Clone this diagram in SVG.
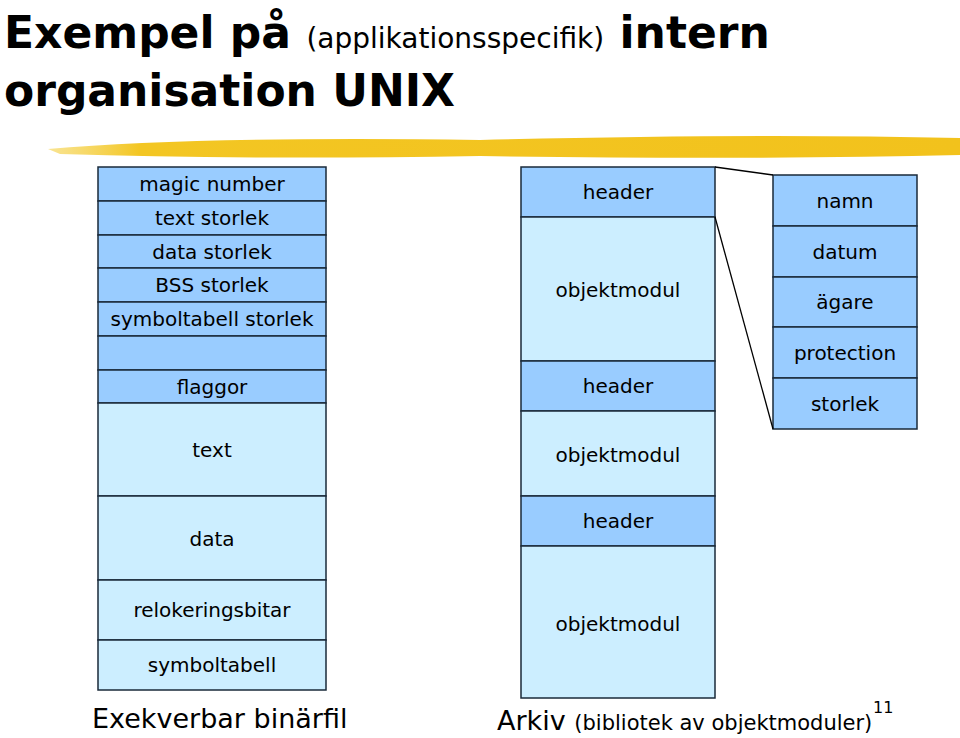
<svg xmlns="http://www.w3.org/2000/svg" width="960" height="738" viewBox="0 0 960 738">
<defs>
<linearGradient id="brush" x1="0" x2="1" y1="0" y2="0">
<stop offset="0" stop-color="#f5d24a" stop-opacity="0.6"/>
<stop offset="0.1" stop-color="#f3c623"/>
<stop offset="1" stop-color="#f2c21c"/>
</linearGradient>
</defs>
<style>
.d{fill:#99ccff;stroke:#1a2a3a;stroke-width:1.5}
.l{fill:#cceeff;stroke:#1a2a3a;stroke-width:1.5}
.t{font-family:"Comic Sans MS","DejaVu Sans",sans-serif;font-size:20px;fill:#000;text-anchor:middle}
.h{font-family:"DejaVu Sans",sans-serif;fill:#000}
.c{font-family:"Comic Sans MS","DejaVu Sans",sans-serif;fill:#000}
</style>
<rect width="960" height="738" fill="#fff"/>
<text class="h" x="4" y="48" style="font-size:44px;font-weight:bold">Exempel på <tspan style="font-size:28px;font-weight:normal">(applikationsspecifik)</tspan> intern</text>
<text class="h" x="4" y="106" style="font-size:44px;font-weight:bold" textLength="451">organisation UNIX</text>
<path d="M48,149 Q200,136 480,140 Q750,133 960,138 L960,155 Q750,160 480,156 Q250,160 60,154 Z" fill="url(#brush)"/>
<g id="exe">
<rect class="d" x="98" y="167" width="228" height="34"/><text class="t" x="212" y="191">magic number</text>
<rect class="d" x="98" y="201" width="228" height="34"/><text class="t" x="212" y="225">text storlek</text>
<rect class="d" x="98" y="235" width="228" height="33"/><text class="t" x="212" y="259">data storlek</text>
<rect class="d" x="98" y="268" width="228" height="34"/><text class="t" x="212" y="292">BSS storlek</text>
<rect class="d" x="98" y="302" width="228" height="34"/><text class="t" x="212" y="326">symboltabell storlek</text>
<rect class="d" x="98" y="336" width="228" height="34"/>
<rect class="d" x="98" y="370" width="228" height="33"/><text class="t" x="212" y="394">flaggor</text>
<rect class="l" x="98" y="403" width="228" height="93"/><text class="t" x="212" y="457">text</text>
<rect class="l" x="98" y="496" width="228" height="84"/><text class="t" x="212" y="546">data</text>
<rect class="l" x="98" y="580" width="228" height="60"/><text class="t" x="212" y="617">relokeringsbitar</text>
<rect class="l" x="98" y="640" width="228" height="50"/><text class="t" x="212" y="672">symboltabell</text>
</g>
<g id="arkiv">
<rect class="d" x="521" y="167" width="194" height="50"/><text class="t" x="618" y="199">header</text>
<rect class="l" x="521" y="217" width="194" height="144"/><text class="t" x="618" y="297">objektmodul</text>
<rect class="d" x="521" y="361" width="194" height="50"/><text class="t" x="618" y="393">header</text>
<rect class="l" x="521" y="411" width="194" height="85"/><text class="t" x="618" y="462">objektmodul</text>
<rect class="d" x="521" y="496" width="194" height="50"/><text class="t" x="618" y="528">header</text>
<rect class="l" x="521" y="546" width="194" height="152"/><text class="t" x="618" y="631">objektmodul</text>
</g>
<g id="hdr">
<rect class="d" x="773" y="175" width="144" height="51"/><text class="t" x="845" y="208">namn</text>
<rect class="d" x="773" y="226" width="144" height="51"/><text class="t" x="845" y="259">datum</text>
<rect class="d" x="773" y="277" width="144" height="50"/><text class="t" x="845" y="309">ägare</text>
<rect class="d" x="773" y="327" width="144" height="51"/><text class="t" x="845" y="360">protection</text>
<rect class="d" x="773" y="378" width="144" height="51"/><text class="t" x="845" y="411">storlek</text>
</g>
<g id="connectors" stroke="#000" stroke-width="1.3">
<line x1="715" y1="167" x2="773" y2="175"/>
<line x1="715" y1="217" x2="773" y2="429"/>
</g>
<text class="c" x="92" y="728" font-size="27">Exekverbar binärfil</text>
<text class="c" x="497" y="730" font-size="27">Arkiv <tspan font-size="21">(bibliotek av objektmoduler)</tspan></text>
<text class="c" x="873" y="713" font-size="16">11</text>
</svg>
